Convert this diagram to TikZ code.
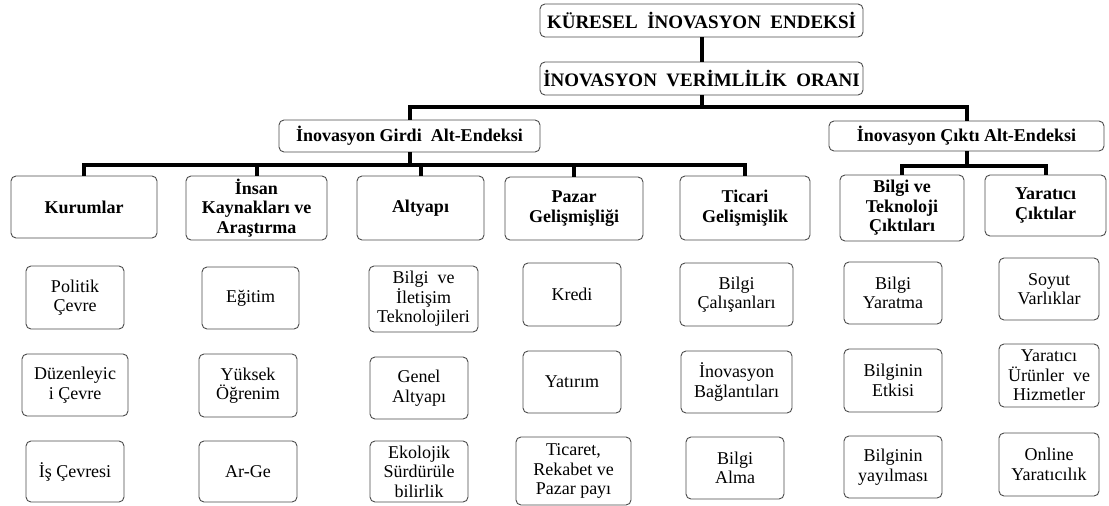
\documentclass[tikz,border=0pt]{standalone}
\usepackage{fontspec}
\setmainfont{Liberation Serif}
\begin{document}
\begin{tikzpicture}[x=1pt,y=-1pt,
  box/.style={draw=black!70, line width=0.9pt, rounded corners=5pt, fill=white, inner sep=0pt, align=center, text=black},
  topbox/.style={box, font=\fontsize{19}{21}\selectfont\bfseries},
  midbox/.style={box, font=\fontsize{18}{19.5}\selectfont\bfseries},
  leafbox/.style={box, font=\fontsize{18}{19.5}\selectfont},
  conn/.style={line width=4pt, black, line join=miter}]
\useasboundingbox (0,0) rectangle (1109,506);
% top levels
\node[topbox, minimum width=323pt, minimum height=33pt] (gki) at (701.5,20.5) {KÜRESEL\ \ İNOVASYON\ \ ENDEKSİ};
\node[topbox, minimum width=323pt, minimum height=33pt] (vor) at (701.5,78.5) {İNOVASYON\ \ VERİMLİLİK\ \ ORANI};
\node[midbox, minimum width=261pt, minimum height=32pt] (gir) at (409.5,136) {İnovasyon Girdi\ \ Alt-Endeksi};
\node[midbox, minimum width=275pt, minimum height=30pt] (cik) at (966.5,136) {İnovasyon Çıktı Alt-Endeksi};
% level 3
\node[midbox, minimum width=146pt, minimum height=62pt] (l1) at (84,207) {Kurumlar};
\node[midbox, minimum width=141pt, minimum height=64pt] (l2) at (256.5,208) {İnsan\\Kaynakları ve\\Araştırma};
\node[midbox, minimum width=127pt, minimum height=64pt] (l3) at (420.5,208) {Altyapı};
\node[midbox, minimum width=138pt, minimum height=63pt] (l4) at (574,208.5) {Pazar\\Gelişmişliği};
\node[midbox, minimum width=130pt, minimum height=64pt] (l5) at (745,208) {Ticari\\Gelişmişlik};
\node[midbox, minimum width=124pt, minimum height=66pt] (l6) at (902,208) {Bilgi ve\\Teknoloji\\Çıktıları};
\node[midbox, minimum width=121pt, minimum height=61pt] (l7) at (1045.5,205.5) {Yaratıcı\\Çıktılar};
% level 4
\node[leafbox, minimum width=98pt, minimum height=63pt] (a1) at (75,297.5) {Politik\\Çevre};
\node[leafbox, minimum width=106pt, minimum height=62pt] (a2) at (75,385) {Düzenleyic\\i Çevre};
\node[leafbox, minimum width=98pt, minimum height=61pt] (a3) at (75,471.5) {İş Çevresi};
\node[leafbox, minimum width=97pt, minimum height=62pt] (b1) at (250.5,298) {Eğitim};
\node[leafbox, minimum width=98pt, minimum height=63pt] (b2) at (248,385.5) {Yüksek\\Öğrenim};
\node[leafbox, minimum width=98pt, minimum height=61pt] (b3) at (248,471.5) {Ar-Ge};
\node[leafbox, minimum width=109pt, minimum height=66pt] (c1) at (423.5,299) {Bilgi\ \ ve\\İletişim\\Teknolojileri};
\node[leafbox, minimum width=98pt, minimum height=62pt] (c2) at (419,388) {Genel\\Altyapı};
\node[leafbox, minimum width=98pt, minimum height=61pt] (c3) at (419,471.5) {Ekolojik\\Sürdürüle\\bilirlik};
\node[leafbox, minimum width=98pt, minimum height=63pt] (d1) at (572,294.5) {Kredi};
\node[leafbox, minimum width=98pt, minimum height=62pt] (d2) at (572,382) {Yatırım};
\node[leafbox, minimum width=115pt, minimum height=68pt] (d3) at (573.5,471) {Ticaret,\\Rekabet ve\\Pazar payı};
\node[leafbox, minimum width=113pt, minimum height=63pt] (e1) at (736.5,294.5) {Bilgi\\Çalışanları};
\node[leafbox, minimum width=111pt, minimum height=62pt] (e2) at (736.5,382) {İnovasyon\\Bağlantıları};
\node[leafbox, minimum width=98pt, minimum height=62pt] (e3) at (735,468) {Bilgi\\Alma};
\node[leafbox, minimum width=98pt, minimum height=62pt] (f1) at (893,293) {Bilgi\\Yaratma};
\node[leafbox, minimum width=98pt, minimum height=63pt] (f2) at (893,380.5) {Bilginin\\Etkisi};
\node[leafbox, minimum width=98pt, minimum height=62pt] (f3) at (893,467) {Bilginin\\yayılması};
\node[leafbox, minimum width=100pt, minimum height=62pt] (g1) at (1049,289) {Soyut\\Varlıklar};
\node[leafbox, minimum width=100pt, minimum height=63pt] (g2) at (1049,375.5) {Yaratıcı\\Ürünler\ \ ve\\Hizmetler};
\node[leafbox, minimum width=100pt, minimum height=63pt] (g3) at (1049,464.5) {Online\\Yaratıcılık};
% connectors
\coordinate (bar1) at (0,107);
\coordinate (bar2) at (0,165);
\coordinate (bar3) at (0,166);
\draw[conn] (gki.south) -- (vor.north);
\draw[conn] (vor.south) -- (vor.south |- bar1);
\draw[conn] (gir.north) -- (gir.north |- bar1) -- (cik.north |- bar1) -- (cik.north);
\draw[conn] (gir.south) -- (gir.south |- bar2);
\draw[conn] (l1.north) -- (l1.north |- bar2) -- (l5.north |- bar2) -- (l5.north);
\draw[conn] (l2.north) -- (l2.north |- bar2);
\draw[conn] (l3.north) -- (l3.north |- bar2);
\draw[conn] (l4.north) -- (l4.north |- bar2);
\draw[conn] (cik.south) -- (cik.south |- bar3);
\draw[conn] (l6.north) -- (l6.north |- bar3) -- (l7.north |- bar3) -- (l7.north);
\end{tikzpicture}
\end{document}
